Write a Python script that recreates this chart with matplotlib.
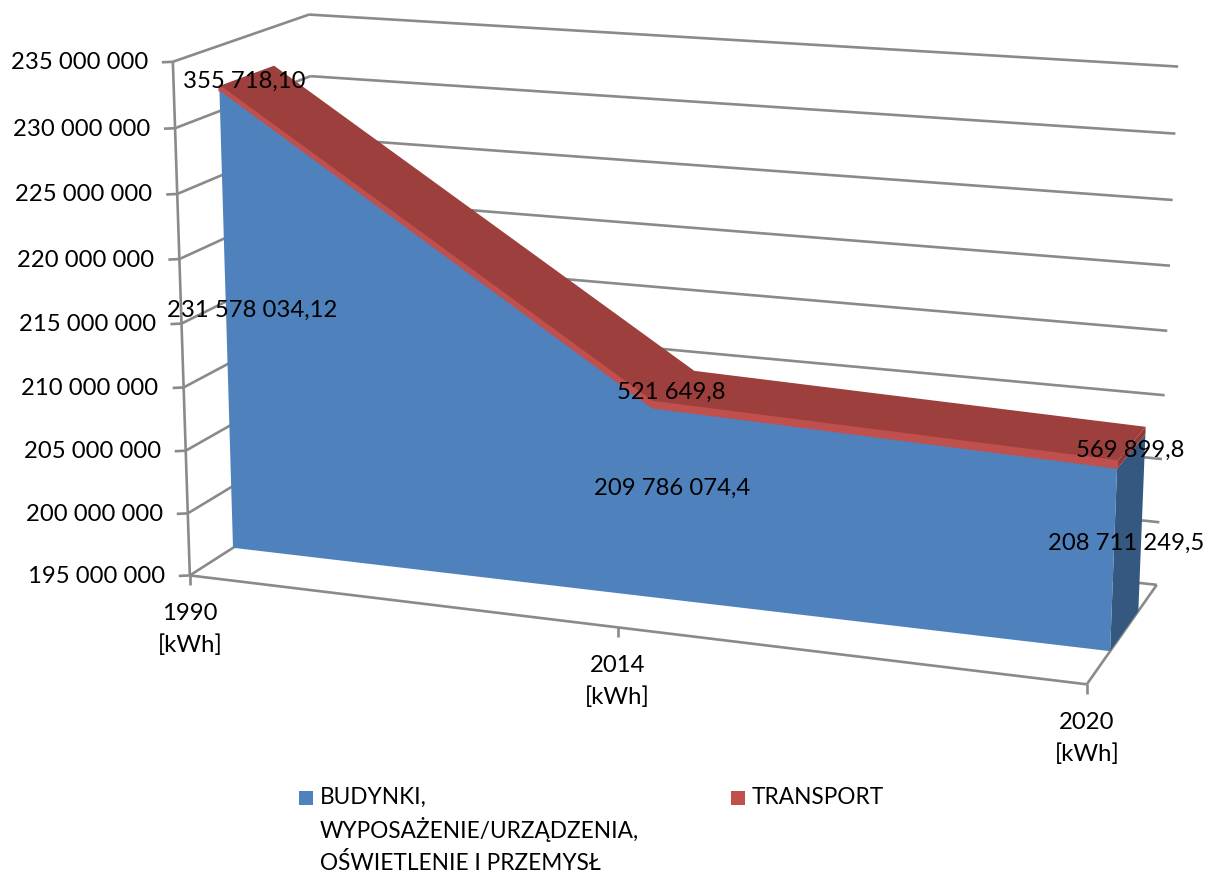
import numpy as np
import matplotlib
matplotlib.use("Agg")
import matplotlib.pyplot as plt
from matplotlib.patches import Polygon, Rectangle

# ---- data ----
categories = ["1990", "2014", "2020"]
unit = "[kWh]"
buildings = [231578034.12, 209786074.4, 208711249.5]
transport = [355718.10, 521649.8, 569899.8]
building_labels = ["231 578 034,12", "209 786 074,4", "208 711 249,5"]
transport_labels = ["355 718,10", "521 649,8", "569 899,8"]
y_ticks = [195e6, 200e6, 205e6, 210e6, 215e6, 220e6, 225e6, 230e6, 235e6]
y_tick_labels = ["195 000 000", "200 000 000", "205 000 000", "210 000 000", "215 000 000",
                 "220 000 000", "225 000 000", "230 000 000", "235 000 000"]
series_names = [["BUDYNKI,", "WYPOSAŻENIE/URZĄDZENIA,", "OŚWIETLENIE I PRZEMYSŁ"], ["TRANSPORT"]]

# ---- camera: box coordinates (x, value, depth) to canvas pixels ----
box_refs = [((0, 0, 0), (191, 573)), ((0, 1, 0), (172, 62)), ((1, 0, 0), (1087, 685)),
            ((0.5, 0, 0), (617, 629)), ((0, 0, 1), (319, 494)), ((0, 1, 1), (310, 14)),
            ((1, 0, 1), (1157, 583)), ((1, 1, 1), (1178, 67))]
rows = []
for (X, Y, Z), (u, v) in box_refs:
    rows.append([X, Y, Z, 1, 0, 0, 0, 0, -u * X, -u * Y, -u * Z, -u])
    rows.append([0, 0, 0, 0, X, Y, Z, 1, -v * X, -v * Y, -v * Z, -v])
camera = np.linalg.svd(np.array(rows, float))[2][-1].reshape(3, 4)


def to_unit(value):
    return (value - y_ticks[0]) / (y_ticks[-1] - y_ticks[0])


def proj(x, y, z):
    p = camera @ np.array([x, y, z, 1.0])
    return p[0] / p[2], p[1] / p[2]


def place(idx, value, z):
    return proj(idx / (len(categories) - 1), to_unit(value), z)


FS = 17.2
FS_LEGEND = 16.3
FONT = "Lato"
GRID = "#8A8A8A"
LW = 1.9
DEPTH_FRONT, DEPTH_BACK = 0.315, 0.72

fig = plt.figure(figsize=(12.06, 8.73), dpi=100, facecolor="white")
ax = fig.add_axes([0, 0, 1, 1])
ax.set_xlim(0, 1206)
ax.set_ylim(873, 0)
ax.axis("off")


def seg(a, b):
    ax.plot([a[0], b[0]], [a[1], b[1]], color=GRID, lw=LW, solid_capstyle="butt", zorder=1)


# walls and floor
for t, tick_text in zip(y_ticks, y_tick_labels):
    y = to_unit(t)
    front = proj(0, y, 0)
    back = proj(0, y, 1)
    seg(front, back)
    seg(back, proj(1, y, 1))
    seg((front[0] - 11, front[1] + 0.5), front)
    ax.text(front[0] - 25, front[1] + 1, tick_text, ha="right", va="center",
            fontsize=FS, family=FONT, color="black", zorder=6)
seg(proj(0, 0, 0), proj(0, 1, 0))
seg(proj(0, 0, 0), proj(1, 0, 0))
seg(proj(1, 0, 0), proj(1, 0, 1))

# category ticks and labels
for i, name in enumerate(categories):
    a = place(i, y_ticks[0], 0)
    seg(a, (a[0], a[1] + 10))
    ax.text(a[0], a[1] + 38, name, ha="center", va="center", fontsize=FS, family=FONT, zorder=6)
    ax.text(a[0], a[1] + 70, unit, ha="center", va="center", fontsize=FS, family=FONT, zorder=6)

totals = [b + t for b, t in zip(buildings, transport)]
n = len(categories)

# right-hand end faces
ax.add_patch(Polygon([place(n - 1, y_ticks[0], DEPTH_FRONT), place(n - 1, y_ticks[0], DEPTH_BACK),
                      place(n - 1, buildings[-1], DEPTH_BACK), place(n - 1, buildings[-1], DEPTH_FRONT)],
                     closed=True, fc="#34587F", ec="none", zorder=2))
ax.add_patch(Polygon([place(n - 1, buildings[-1], DEPTH_FRONT), place(n - 1, buildings[-1], DEPTH_BACK),
                      place(n - 1, totals[-1], DEPTH_BACK), place(n - 1, totals[-1], DEPTH_FRONT)],
                     closed=True, fc="#8F3A38", ec="none", zorder=2))

# sloped top of the stack
top = [place(i, totals[i], DEPTH_FRONT) for i in range(n)] + \
      [place(i, totals[i], DEPTH_BACK) for i in reversed(range(n))]
ax.add_patch(Polygon(top, closed=True, fc="#9C3F3D", ec="none", zorder=3))

# front faces
blue_front = [place(i, buildings[i], DEPTH_FRONT) for i in range(n)] + \
             [place(n - 1, y_ticks[0], DEPTH_FRONT), place(0, y_ticks[0], DEPTH_FRONT)]
ax.add_patch(Polygon(blue_front, closed=True, fc="#4F81BD", ec="none", zorder=5))
red_front = [place(i, totals[i], DEPTH_FRONT) for i in range(n)] + \
            [place(i, buildings[i], DEPTH_FRONT) for i in reversed(range(n))]
ax.add_patch(Polygon(red_front, closed=True, fc="#C0504D", ec="#C0504D", lw=1.4, zorder=4))

# value labels
transport_pos = [(244, 81), (671, 392), (1130, 450)]
building_pos = [(252, 310), (672, 488), (1126, 543)]
for txt, pos in zip(transport_labels + building_labels, transport_pos + building_pos):
    ax.text(pos[0], pos[1], txt, ha="center", va="center", fontsize=FS, family=FONT, color="black", zorder=7)

# legend, with each line set on its baseline
legend_colors = ["#4F81BD", "#C0504D"]
legend_x = [299, 731]
baselines = [804, 838, 870]
for colour, x0, lines in zip(legend_colors, legend_x, series_names):
    ax.add_patch(Rectangle((x0, 791), 14, 14, fc=colour, ec="none", zorder=5))
    for text, yy in zip(lines, baselines):
        ax.text(x0 + 21, yy, text, ha="left", va="baseline", fontsize=FS_LEGEND, family=FONT, color="black", zorder=6)

fig.savefig("out.png", dpi=100, facecolor="white")
